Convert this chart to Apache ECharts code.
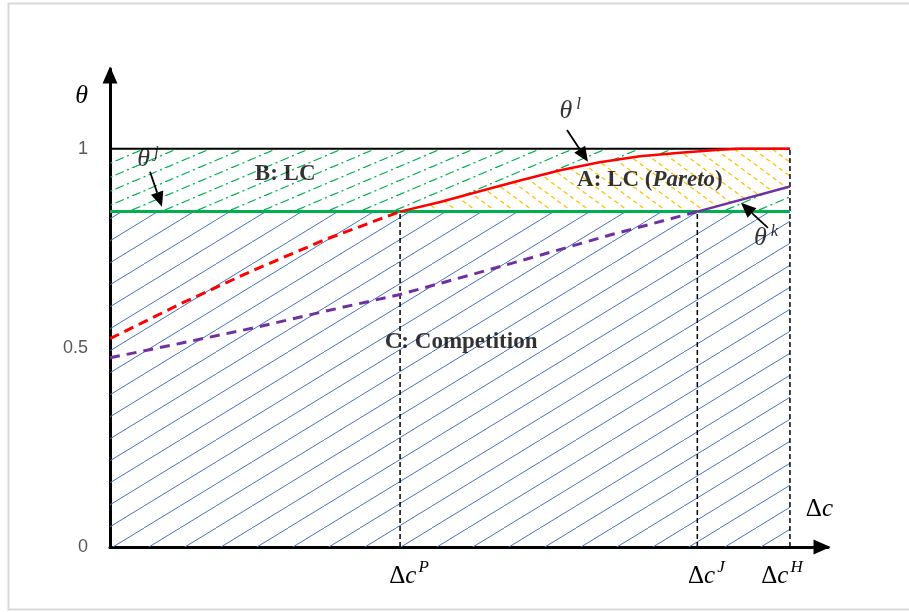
<!DOCTYPE html>
<html>
<head>
<meta charset="utf-8">
<script src="https://cdn.jsdelivr.net/npm/echarts@6/dist/echarts.min.js"></script>
<style>
  html, body { margin: 0; padding: 0; background: #fff; }
  #chart { width: 909px; height: 612px; }
</style>
</head>
<body>
<div id="chart"></div>
<script>
// ---- thresholds on the Δc axis ----
const xTickValues = [40.4, 81.8, 94.7];      // Δc^P, Δc^J, Δc^H
const xTickSups = ['P', 'J', 'H'];
const yTickValues = [0, 0.5, 1];

const dcP = xTickValues[0], dcJ = xTickValues[1], dcH = xTickValues[2];
const thetaJ = 0.842;   // θ^j level
const thetaTop = 1;     // θ = 1

// ---- curves ----
const thetaLDashed = [[0, 0.523], [10, 0.612], [20, 0.695], [30, 0.772], [40.4, 0.842]];
const thetaLSolid = [[40.4, 0.842], [46, 0.866], [51.5, 0.893], [57.1, 0.920], [62.7, 0.946],
                     [68.2, 0.966], [73.8, 0.981], [79.4, 0.990], [84.9, 0.997], [87.7, 1.0], [94.7, 1.0]];
const thetaKDashed = [[0, 0.475], [10, 0.512], [20, 0.550], [30, 0.592], [40.4, 0.634],
                      [50, 0.682], [60, 0.733], [70, 0.785], [81.8, 0.842]];
const thetaKSolid = [[81.8, 0.842], [94.7, 0.905]];

// ---- region captions ----
const regionNames = ['B: LC', 'A: LC (Pareto)', 'C: Competition'];
const regionAnchors = [[24.4, 0.935], [75.2, 0.922], [48.9, 0.515]];

// ---- curve tags with pointer arrows ----
const tagSups = ['j', 'l', 'k'];
const tagAnchors = [[5.3, 0.977], [64.1, 1.097], [91.4, 0.778]];
const tagArrowFrom = [[5.57, 0.942], [63.65, 1.047], [91.64, 0.801]];
const tagArrowTo = [[7.24, 0.854], [66.57, 0.967], [87.88, 0.864]];

// hatch tile painter: '/' rises to the right, '\' falls to the right
function hatchTile(w, h, color, lw, dash, dir, bg) {
  const cv = document.createElement('canvas');
  cv.width = w; cv.height = h;
  const g = cv.getContext('2d');
  if (bg) { g.fillStyle = bg; g.fillRect(0, 0, w, h); }
  g.strokeStyle = color; g.lineWidth = lw; g.setLineDash(dash);
  for (let k = -1; k <= 1; k++) {
    g.beginPath();
    if (dir === '/') { g.moveTo(k * w, h); g.lineTo((k + 1) * w, 0); }
    else { g.moveTo(k * w, 0); g.lineTo((k + 1) * w, h); }
    g.stroke();
  }
  return { image: cv, repeat: 'repeat' };
}
const bluePattern = hatchTile(36, 22, '#4472c4', 1, [], '/');
const greenPattern = hatchTile(33, 14, '#00b050', 1.3, [9, 3.5, 2, 3.4], '/');
const orangePattern = hatchTile(19, 14, '#ffc000', 1.3, [4.5, 3.37], '\\', '#ffffff');

const serif = 'Liberation Serif, Times New Roman, serif';

function renderRegions(params, api) {
  const c = p => api.coord(p);
  const rectC = [[0, 0], [dcH, 0], [dcH, thetaJ], [0, thetaJ]].map(c);
  const rectB = [[0, thetaJ], [0, thetaTop], [dcH, thetaTop], [dcH, thetaJ]].map(c);
  const areaA = thetaLSolid.concat(thetaKSolid.slice().reverse(), [[dcP, thetaJ]]).map(c);
  return {
    type: 'group',
    children: [
      { type: 'polygon', shape: { points: rectC }, style: { fill: bluePattern } },
      { type: 'polygon', shape: { points: rectB }, style: { fill: greenPattern } },
      { type: 'polygon', shape: { points: areaA }, style: { fill: orangePattern } }
    ]
  };
}

function renderArrow(params, api) {
  const i = params.dataIndex;
  const p1 = api.coord(tagArrowFrom[i]), p2 = api.coord(tagArrowTo[i]);
  const dx = p2[0] - p1[0], dy = p2[1] - p1[1], len = Math.hypot(dx, dy);
  const ux = dx / len, uy = dy / len;
  const hl = 15, hw = 6.5;
  const bx = p2[0] - ux * hl, by = p2[1] - uy * hl;
  return {
    type: 'group',
    children: [
      { type: 'line', shape: { x1: p1[0], y1: p1[1], x2: bx, y2: by }, style: { stroke: '#000', lineWidth: 1.8 } },
      { type: 'polygon', shape: { points: [[p2[0], p2[1]], [bx - uy * hw, by + ux * hw], [bx + uy * hw, by - ux * hw]] },
        style: { fill: '#000' } }
    ]
  };
}

const mathRich = {
  d: { fontFamily: serif, fontSize: 25, lineHeight: 30, color: '#000', verticalAlign: 'bottom' },
  c: { fontFamily: serif, fontStyle: 'italic', fontSize: 25, lineHeight: 30, color: '#000', verticalAlign: 'bottom' },
  s: { fontFamily: serif, fontStyle: 'italic', fontSize: 17, lineHeight: 18, color: '#000', verticalAlign: 'top', padding: [0, 0, 0, 2] },
  t: { fontFamily: serif, fontStyle: 'italic', fontSize: 26, lineHeight: 28, color: '#000', verticalAlign: 'bottom' },
  ts: { fontFamily: serif, fontStyle: 'italic', fontSize: 17, lineHeight: 15, color: '#000', verticalAlign: 'top', padding: [0, 0, 0, 4] },
  spR: { width: 18 },
  spL: { width: 16 }
};

function lineSeries(data, color, width, dashed, z) {
  return {
    type: 'line', data: data, showSymbol: false, symbol: 'none', silent: true, z: z || 3,
    lineStyle: { color: color, width: width, type: dashed ? dashed : 'solid', cap: 'butt' },
    animation: false
  };
}

const chart = echarts.init(document.getElementById('chart'), null, { renderer: 'canvas' });
chart.setOption({
  animation: false,
  backgroundColor: '#ffffff',
  graphic: [{
    type: 'rect', silent: true, z: -10,
    shape: { x: 8.5, y: 3.5, width: 1000, height: 606 },
    style: { fill: 'none', stroke: '#d9d9d9', lineWidth: 2 }
  }],
  grid: { left: 110, right: 81, top: 69, bottom: 65, containLabel: false, outerBoundsMode: 'none' },
  xAxis: {
    type: 'value', min: 0, max: 100,
    splitLine: { show: false },
    axisTick: { show: false },
    axisLine: { lineStyle: { color: '#000', width: 3 }, symbol: ['none', 'triangle'], symbolSize: [15, 17], symbolOffset: [0, -6] },
    axisLabel: {
      customValues: xTickValues, margin: 12, hideOverlap: false,
      formatter: function (v) {
        const i = xTickValues.indexOf(v);
        const body = '{d|Δ}{c|c}{s|' + xTickSups[i] + '}';
        return i === 2 ? body + '{spL| }' : '{spR| }' + body;
      },
      rich: mathRich
    },
    name: '{d|Δ}{c|c}', nameLocation: 'end', nameGap: 5,
    nameTextStyle: { align: 'right', verticalAlign: 'bottom', padding: [0, 0, 25, 0], rich: mathRich }
  },
  yAxis: {
    type: 'value', min: 0, max: 1.2,
    splitLine: { show: false },
    axisTick: { show: false },
    axisLine: { lineStyle: { color: '#000', width: 3 }, symbol: ['none', 'triangle'], symbolSize: [15, 17], symbolOffset: [0, -6] },
    axisLabel: {
      customValues: yTickValues, margin: 22, hideOverlap: false,
      color: '#595959', fontSize: 18, fontFamily: 'Liberation Sans, Arial, sans-serif',
      formatter: v => String(v)
    },
    name: '{t|θ}', nameLocation: 'end', nameGap: -12,
    nameTextStyle: { align: 'right', verticalAlign: 'top', padding: [0, 22, 0, 0], rich: mathRich }
  },
  series: [
    { type: 'custom', renderItem: renderRegions, data: [[0, 0]], clip: false, silent: true, z: 1 },
    lineSeries([[0, thetaTop], [dcH, thetaTop]], '#000', 2, null, 2),
    lineSeries([[0, thetaJ], [dcH, thetaJ]], '#00b050', 3, null, 3),
    lineSeries([[dcP, 0], [dcP, thetaJ]], '#000', 1.5, [5, 3], 2),
    lineSeries([[dcJ, 0], [dcJ, thetaJ]], '#000', 1.5, [5, 3], 2),
    lineSeries([[dcH, 0], [dcH, thetaTop]], '#000', 1.5, [5, 3], 2),
    lineSeries(thetaLDashed, '#ff0000', 3, [10, 6], 4),
    lineSeries(thetaLSolid, '#ff0000', 2.5, null, 4),
    lineSeries(thetaKDashed, '#7030a0', 3, [10, 7], 4),
    lineSeries(thetaKSolid, '#7030a0', 2.5, null, 4),
    { type: 'custom', renderItem: renderArrow, data: tagArrowTo, clip: false, silent: true, z: 6 },
    {
      type: 'scatter', symbolSize: 0, silent: true, z: 7,
      data: tagAnchors.map((p, i) => ({ value: p, label: { formatter: '{t|θ}{ts|' + tagSups[i] + '}' } })),
      label: { show: true, position: 'inside', rich: mathRich }
    },
    {
      type: 'scatter', symbolSize: 0, silent: true, z: 7,
      data: regionAnchors.map((p, i) => {
        const txt = regionNames[i];
        const f = txt.indexOf('(Pareto)') >= 0
          ? '{b|A: LC (}{bi|Pareto}{b|)}'
          : '{b|' + txt + '}';
        return { value: p, label: { formatter: f } };
      }),
      label: {
        show: true, position: 'inside',
        rich: {
          b: { fontFamily: serif, fontWeight: 'bold', fontSize: 23, color: '#000' },
          bi: { fontFamily: serif, fontWeight: 'bold', fontStyle: 'italic', fontSize: 23, color: '#000' }
        }
      }
    }
  ]
});
</script>
</body>
</html>
